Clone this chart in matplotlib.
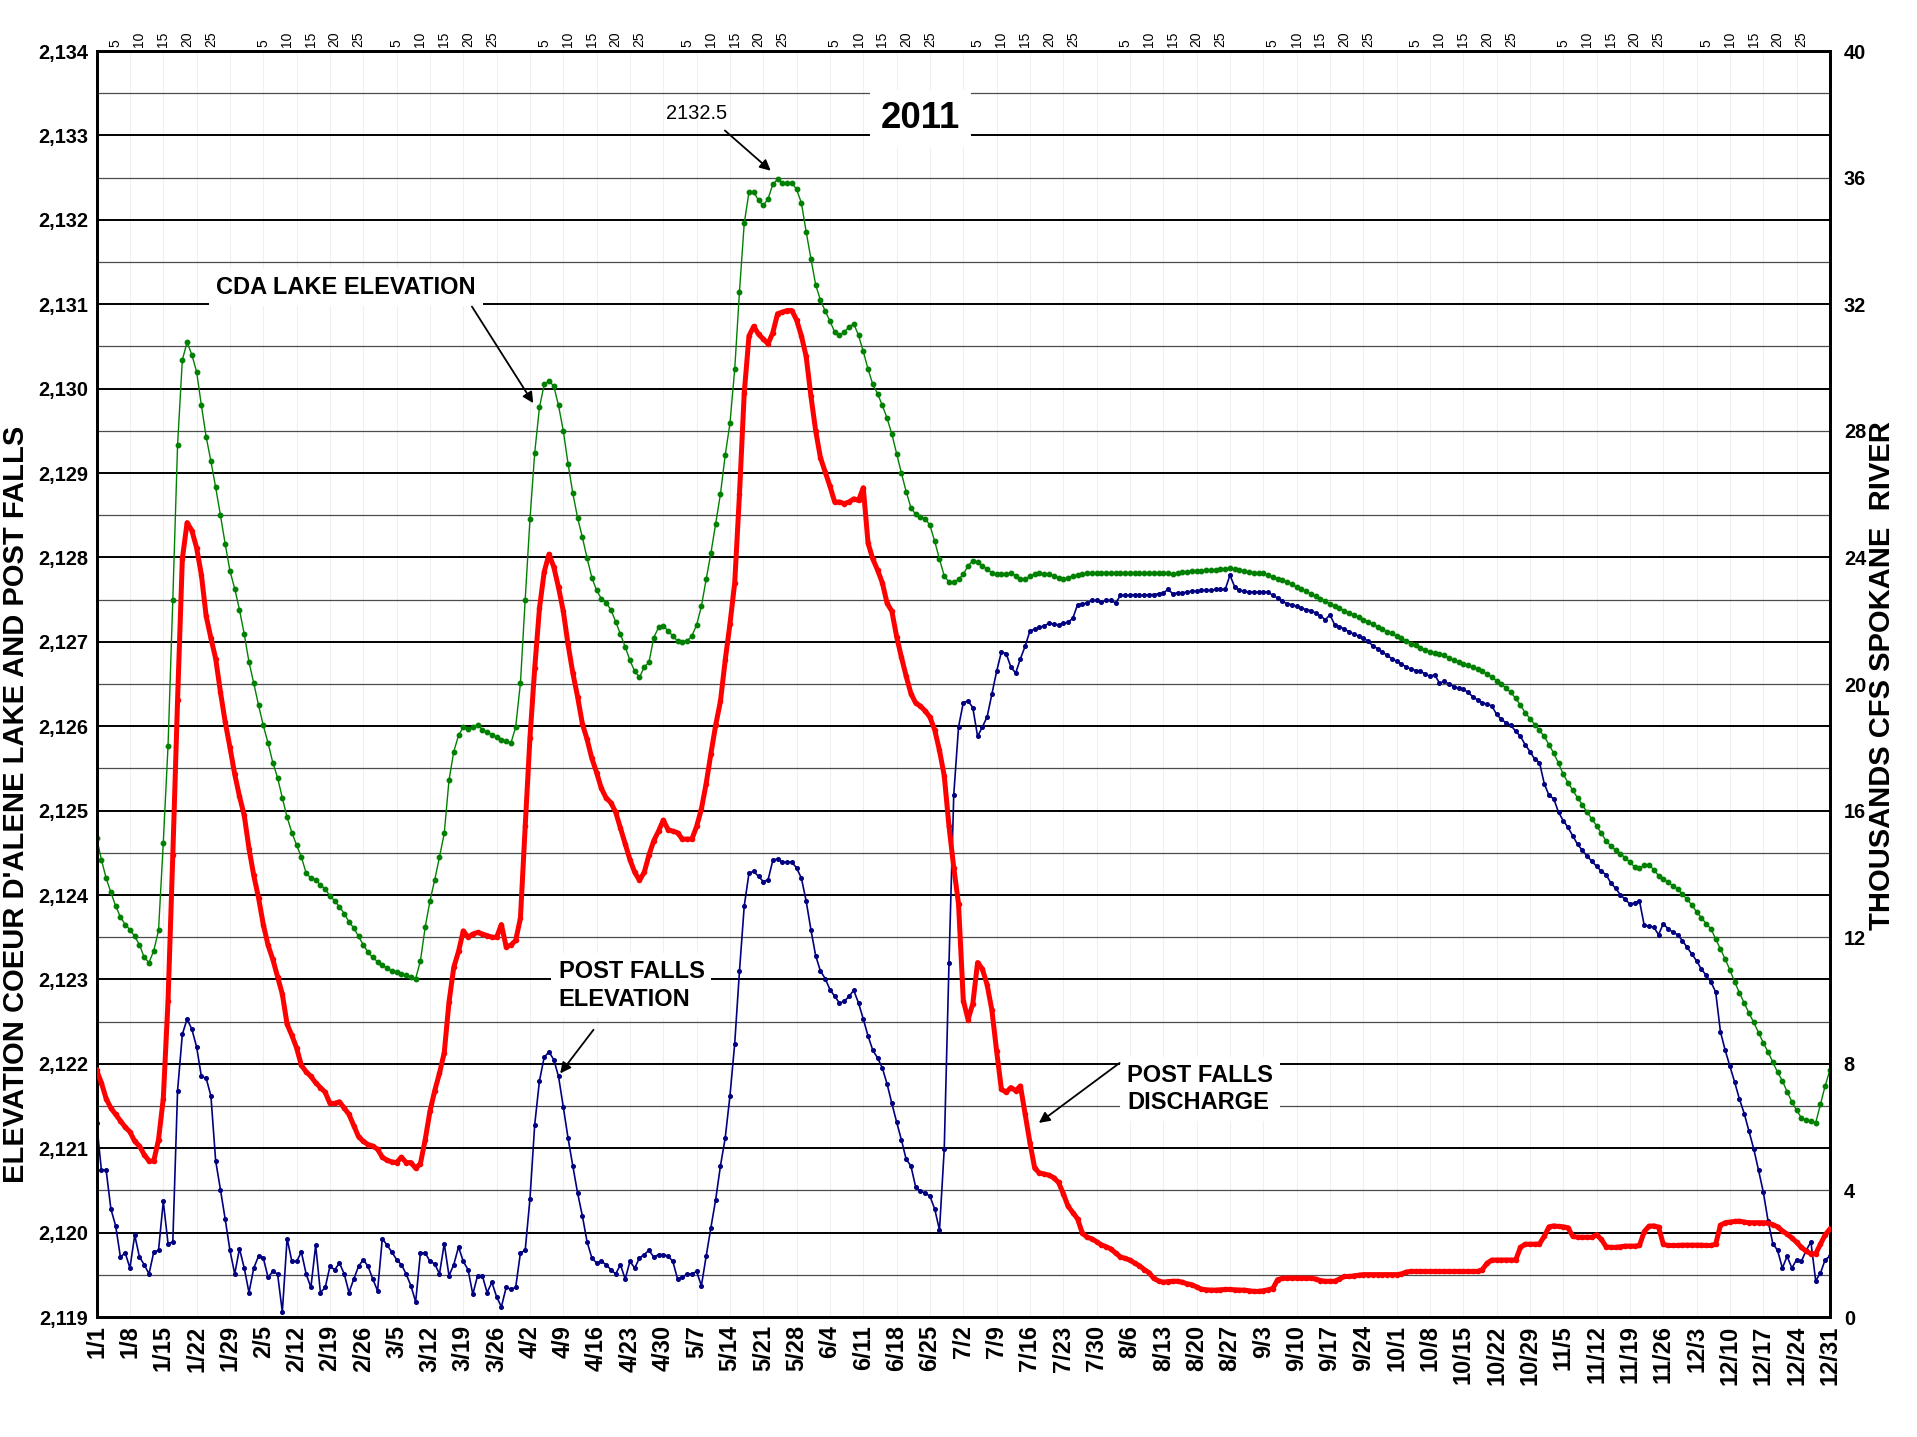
import datetime as dt
import matplotlib.pyplot as plt
from matplotlib import font_manager

# daily values, 1/1/2011 .. 12/31/2011
cda_lake = [
    2124.68, 2124.42, 2124.20, 2124.03, 2123.87, 2123.74, 2123.65, 2123.59, 2123.51, 2123.41,
    2123.26, 2123.20, 2123.34, 2123.58, 2124.62, 2125.77, 2127.50, 2129.33, 2130.34, 2130.55,
    2130.40, 2130.20, 2129.80, 2129.43, 2129.14, 2128.83, 2128.50, 2128.16, 2127.84, 2127.63,
    2127.38, 2127.09, 2126.76, 2126.51, 2126.25, 2126.01, 2125.80, 2125.57, 2125.39, 2125.15,
    2124.92, 2124.74, 2124.59, 2124.45, 2124.26, 2124.20, 2124.18, 2124.12, 2124.07, 2123.99,
    2123.93, 2123.86, 2123.78, 2123.68, 2123.61, 2123.51, 2123.41, 2123.32, 2123.26, 2123.21,
    2123.17, 2123.13, 2123.10, 2123.09, 2123.07, 2123.05, 2123.03, 2123.01, 2123.22, 2123.62,
    2123.93, 2124.18, 2124.45, 2124.73, 2125.36, 2125.70, 2125.89, 2125.99, 2125.97, 2125.99,
    2126.02, 2125.96, 2125.93, 2125.90, 2125.87, 2125.84, 2125.82, 2125.80, 2125.99, 2126.51,
    2127.50, 2128.45, 2129.24, 2129.78, 2130.05, 2130.09, 2130.03, 2129.80, 2129.50, 2129.11,
    2128.76, 2128.47, 2128.24, 2127.99, 2127.76, 2127.61, 2127.51, 2127.46, 2127.38, 2127.24,
    2127.09, 2126.94, 2126.78, 2126.65, 2126.58, 2126.70, 2126.76, 2127.05, 2127.17, 2127.19,
    2127.13, 2127.07, 2127.01, 2127.00, 2127.01, 2127.07, 2127.20, 2127.42, 2127.74, 2128.05,
    2128.40, 2128.75, 2129.21, 2129.59, 2130.23, 2131.15, 2131.96, 2132.33, 2132.33, 2132.23,
    2132.17, 2132.25, 2132.42, 2132.48, 2132.44, 2132.44, 2132.44, 2132.36, 2132.20, 2131.86,
    2131.54, 2131.23, 2131.05, 2130.92, 2130.80, 2130.67, 2130.63, 2130.67, 2130.73, 2130.77,
    2130.63, 2130.44, 2130.23, 2130.05, 2129.94, 2129.80, 2129.65, 2129.46, 2129.23, 2129.00,
    2128.78, 2128.59, 2128.51, 2128.48, 2128.46, 2128.38, 2128.19, 2127.98, 2127.78, 2127.71,
    2127.71, 2127.74, 2127.80, 2127.90, 2127.96, 2127.94, 2127.90, 2127.86, 2127.82, 2127.80,
    2127.80, 2127.80, 2127.82, 2127.78, 2127.74, 2127.74, 2127.78, 2127.80, 2127.81, 2127.80,
    2127.80, 2127.78, 2127.76, 2127.74, 2127.76, 2127.78, 2127.79, 2127.80, 2127.81, 2127.81,
    2127.82, 2127.82, 2127.82, 2127.82, 2127.82, 2127.82, 2127.81, 2127.82, 2127.82, 2127.81,
    2127.81, 2127.81, 2127.82, 2127.82, 2127.82, 2127.81, 2127.80, 2127.82, 2127.83, 2127.83,
    2127.84, 2127.84, 2127.84, 2127.85, 2127.85, 2127.85, 2127.86, 2127.86, 2127.88, 2127.86,
    2127.85, 2127.84, 2127.83, 2127.82, 2127.82, 2127.81, 2127.79, 2127.77, 2127.75, 2127.73,
    2127.71, 2127.68, 2127.65, 2127.62, 2127.60, 2127.57, 2127.54, 2127.51, 2127.48, 2127.45,
    2127.42, 2127.40, 2127.37, 2127.34, 2127.32, 2127.29, 2127.26, 2127.24, 2127.21, 2127.18,
    2127.15, 2127.12, 2127.10, 2127.07, 2127.04, 2127.01, 2126.98, 2126.96, 2126.93, 2126.90,
    2126.88, 2126.87, 2126.86, 2126.84, 2126.81, 2126.78, 2126.76, 2126.74, 2126.72, 2126.70,
    2126.68, 2126.65, 2126.62, 2126.58, 2126.54, 2126.50, 2126.45, 2126.40, 2126.33, 2126.25,
    2126.16, 2126.09, 2126.02, 2125.95, 2125.88, 2125.78, 2125.68, 2125.56, 2125.43, 2125.33,
    2125.24, 2125.15, 2125.07, 2124.98, 2124.90, 2124.82, 2124.73, 2124.64, 2124.58, 2124.53,
    2124.49, 2124.44, 2124.39, 2124.33, 2124.32, 2124.35, 2124.36, 2124.30, 2124.23, 2124.19,
    2124.15, 2124.11, 2124.07, 2124.01, 2123.95, 2123.88, 2123.80, 2123.73, 2123.66, 2123.60,
    2123.48, 2123.36, 2123.24, 2123.11, 2122.97, 2122.84, 2122.72, 2122.60, 2122.49, 2122.37,
    2122.25, 2122.14, 2122.02, 2121.90, 2121.80, 2121.67, 2121.55, 2121.45, 2121.36, 2121.33,
    2121.32, 2121.30, 2121.52, 2121.74, 2121.93,
]

pf_elev = [
    2121.30, 2120.74, 2120.74, 2120.28, 2120.08, 2119.71, 2119.76, 2119.58, 2119.97, 2119.71,
    2119.62, 2119.51, 2119.77, 2119.79, 2120.37, 2119.87, 2119.89, 2121.68, 2122.35, 2122.53,
    2122.41, 2122.20, 2121.85, 2121.83, 2121.62, 2120.85, 2120.51, 2120.16, 2119.79, 2119.51,
    2119.81, 2119.58, 2119.29, 2119.58, 2119.72, 2119.70, 2119.47, 2119.54, 2119.51, 2119.06,
    2119.93, 2119.66, 2119.66, 2119.77, 2119.51, 2119.35, 2119.85, 2119.29, 2119.35, 2119.60,
    2119.56, 2119.64, 2119.51, 2119.29, 2119.45, 2119.60, 2119.68, 2119.60, 2119.45, 2119.31,
    2119.93, 2119.85, 2119.77, 2119.68, 2119.62, 2119.51, 2119.37, 2119.18, 2119.76, 2119.76,
    2119.66, 2119.63, 2119.51, 2119.87, 2119.49, 2119.62, 2119.83, 2119.66, 2119.56, 2119.27,
    2119.49, 2119.49, 2119.29, 2119.41, 2119.24, 2119.12, 2119.35, 2119.33, 2119.35, 2119.76,
    2119.79, 2120.40, 2121.28, 2121.80, 2122.08, 2122.14, 2122.05, 2121.85, 2121.49, 2121.12,
    2120.79, 2120.47, 2120.20, 2119.89, 2119.70, 2119.64, 2119.66, 2119.62, 2119.56, 2119.51,
    2119.62, 2119.45, 2119.66, 2119.58, 2119.70, 2119.74, 2119.79, 2119.71, 2119.74, 2119.74,
    2119.72, 2119.66, 2119.45, 2119.47, 2119.51, 2119.51, 2119.54, 2119.37, 2119.72, 2120.06,
    2120.39, 2120.79, 2121.12, 2121.62, 2122.24, 2123.10, 2123.87, 2124.26, 2124.28, 2124.22,
    2124.16, 2124.18, 2124.41, 2124.43, 2124.39, 2124.39, 2124.39, 2124.32, 2124.20, 2123.93,
    2123.59, 2123.28, 2123.10, 2123.01, 2122.88, 2122.80, 2122.72, 2122.74, 2122.80, 2122.87,
    2122.72, 2122.53, 2122.33, 2122.16, 2122.07, 2121.95, 2121.76, 2121.53, 2121.31, 2121.10,
    2120.87, 2120.79, 2120.54, 2120.49, 2120.47, 2120.43, 2120.28, 2120.03, 2120.99, 2123.20,
    2125.19, 2125.99, 2126.28, 2126.30, 2126.22, 2125.88, 2125.99, 2126.11, 2126.38, 2126.65,
    2126.88, 2126.86, 2126.70, 2126.63, 2126.80, 2126.95, 2127.13, 2127.15, 2127.17, 2127.19,
    2127.22, 2127.21, 2127.20, 2127.22, 2127.23, 2127.28, 2127.44, 2127.45, 2127.46, 2127.49,
    2127.49, 2127.47, 2127.49, 2127.49, 2127.46, 2127.55, 2127.55, 2127.55, 2127.56, 2127.55,
    2127.55, 2127.56, 2127.56, 2127.57, 2127.58, 2127.62, 2127.57, 2127.58, 2127.58, 2127.59,
    2127.60, 2127.60, 2127.61, 2127.61, 2127.61, 2127.62, 2127.62, 2127.62, 2127.79, 2127.65,
    2127.61, 2127.60, 2127.59, 2127.59, 2127.59, 2127.59, 2127.59, 2127.55, 2127.52, 2127.48,
    2127.45, 2127.44, 2127.42, 2127.40, 2127.38, 2127.37, 2127.34, 2127.31, 2127.26, 2127.32,
    2127.20, 2127.18, 2127.15, 2127.12, 2127.09, 2127.07, 2127.04, 2127.01, 2126.95, 2126.92,
    2126.88, 2126.84, 2126.80, 2126.77, 2126.74, 2126.70, 2126.68, 2126.66, 2126.65, 2126.62,
    2126.59, 2126.61, 2126.51, 2126.53, 2126.50, 2126.47, 2126.45, 2126.44, 2126.40, 2126.35,
    2126.31, 2126.28, 2126.26, 2126.24, 2126.14, 2126.08, 2126.04, 2126.01, 2125.94, 2125.88,
    2125.78, 2125.70, 2125.61, 2125.57, 2125.32, 2125.18, 2125.14, 2124.98, 2124.88, 2124.80,
    2124.70, 2124.60, 2124.53, 2124.46, 2124.40, 2124.34, 2124.28, 2124.24, 2124.14, 2124.08,
    2124.00, 2123.95, 2123.89, 2123.91, 2123.93, 2123.64, 2123.63, 2123.62, 2123.53, 2123.66,
    2123.60, 2123.56, 2123.53, 2123.46, 2123.38, 2123.30, 2123.22, 2123.12, 2123.05, 2122.97,
    2122.85, 2122.38, 2122.16, 2121.97, 2121.78, 2121.58, 2121.41, 2121.20, 2120.99, 2120.74,
    2120.48, 2120.14, 2119.87, 2119.79, 2119.58, 2119.72, 2119.58, 2119.68, 2119.66, 2119.79,
    2119.89, 2119.43, 2119.52, 2119.68, 2119.72,
]

# thousands cfs
pf_discharge = [
    7.80, 7.40, 6.90, 6.60, 6.40, 6.20, 6.00, 5.85, 5.55, 5.40,
    5.13, 4.93, 4.93, 5.60, 6.90, 10.00, 14.60, 19.50, 23.95, 25.10,
    24.85, 24.30, 23.45, 22.15, 21.45, 20.80, 19.75, 18.80, 18.00, 17.15,
    16.45, 15.85, 14.80, 13.95, 13.25, 12.40, 11.75, 11.30, 10.75, 10.20,
    9.25, 8.90, 8.50, 7.95, 7.75, 7.60, 7.40, 7.25, 7.10, 6.75,
    6.75, 6.80, 6.60, 6.40, 6.05, 5.70, 5.55, 5.45, 5.40, 5.30,
    5.05, 4.95, 4.90, 4.88, 5.05, 4.88, 4.88, 4.70, 4.85, 5.60,
    6.50, 7.15, 7.70, 8.35, 9.95, 11.05, 11.55, 12.20, 12.00, 12.10,
    12.15, 12.10, 12.05, 12.00, 12.00, 12.40, 11.70, 11.75, 11.90, 12.60,
    15.50, 18.30, 20.50, 22.40, 23.55, 24.10, 23.70, 23.05, 22.30, 21.25,
    20.35, 19.60, 18.75, 18.25, 17.65, 17.20, 16.70, 16.40, 16.25, 15.95,
    15.45, 14.95, 14.45, 14.05, 13.80, 14.05, 14.60, 15.05, 15.35, 15.70,
    15.40, 15.35, 15.30, 15.10, 15.10, 15.10, 15.50, 16.05, 16.85, 17.80,
    18.70, 19.45, 20.75, 21.90, 23.20, 26.00, 29.20, 31.00, 31.30, 31.05,
    30.90, 30.75, 31.10, 31.70, 31.75, 31.80, 31.80, 31.50, 31.00, 30.35,
    29.10, 28.00, 27.15, 26.70, 26.25, 25.75, 25.75, 25.70, 25.75, 25.85,
    25.80, 26.20, 24.45, 23.95, 23.60, 23.20, 22.55, 22.30, 21.50, 20.85,
    20.25, 19.70, 19.40, 19.30, 19.15, 18.95, 18.55, 17.90, 17.10, 15.50,
    14.20, 13.05, 10.00, 9.40, 9.90, 11.20, 11.00, 10.50, 9.70, 8.40,
    7.20, 7.10, 7.25, 7.15, 7.30, 6.40, 5.50, 4.70, 4.55, 4.52,
    4.48, 4.40, 4.25, 3.90, 3.50, 3.30, 3.10, 2.65, 2.52, 2.47,
    2.38, 2.28, 2.22, 2.15, 2.02, 1.90, 1.85, 1.80, 1.70, 1.62,
    1.50, 1.40, 1.22, 1.14, 1.10, 1.12, 1.13, 1.13, 1.10, 1.05,
    1.02, 0.95, 0.88, 0.86, 0.85, 0.85, 0.86, 0.87, 0.87, 0.86,
    0.85, 0.85, 0.83, 0.81, 0.81, 0.83, 0.86, 0.90, 1.18, 1.22,
    1.23, 1.23, 1.23, 1.23, 1.22, 1.23, 1.20, 1.15, 1.13, 1.13,
    1.13, 1.20, 1.28, 1.28, 1.30, 1.32, 1.34, 1.34, 1.34, 1.34,
    1.34, 1.34, 1.34, 1.34, 1.36, 1.42, 1.44, 1.44, 1.44, 1.44,
    1.44, 1.44, 1.44, 1.44, 1.44, 1.44, 1.44, 1.44, 1.44, 1.44,
    1.44, 1.50, 1.70, 1.80, 1.80, 1.80, 1.80, 1.80, 1.80, 2.20,
    2.30, 2.30, 2.30, 2.31, 2.55, 2.85, 2.88, 2.86, 2.85, 2.82,
    2.55, 2.52, 2.52, 2.52, 2.52, 2.60, 2.45, 2.22, 2.20, 2.20,
    2.22, 2.24, 2.24, 2.24, 2.26, 2.70, 2.87, 2.88, 2.84, 2.30,
    2.26, 2.26, 2.26, 2.27, 2.27, 2.27, 2.27, 2.27, 2.26, 2.26,
    2.30, 2.90, 2.98, 3.00, 3.02, 3.03, 3.00, 2.98, 2.98, 2.98,
    2.98, 2.97, 2.92, 2.85, 2.72, 2.62, 2.50, 2.36, 2.20, 2.08,
    2.00, 2.00, 2.30, 2.60, 2.78,
]

start = dt.date(2011, 1, 1)
week_days = list(range(0, 365, 7))
week_labels = []
for d in week_days:
    fecha = start + dt.timedelta(days=d)
    week_labels.append(f"{fecha.month}/{fecha.day}")
top_days = [(dt.date(2011, m, dd) - start).days for m in range(1, 13) for dd in (5, 10, 15, 20, 25)]
top_labels = [str(dd) for m in range(1, 13) for dd in (5, 10, 15, 20, 25)]

# fuentes
nombres = {f.name for f in font_manager.fontManager.ttflist}
hay_narrow = 'Liberation Sans Narrow' in nombres
narrow = 'Liberation Sans Narrow' if hay_narrow else 'Liberation Sans'
k = 1.0 if hay_narrow else 0.85  # sin fuente estrecha se reduce el tamaño
plt.rcParams['font.family'] = ['Liberation Sans', 'DejaVu Sans']

fig = plt.figure(figsize=(19.17, 14.37), dpi=100)
ax = fig.add_axes([0.0504, 0.0835, 0.9042, 0.881])
ax2 = ax.twinx()

# lineas horizontales cada medio pie
for i in range(1, 30):
    v = 2119 + i * 0.5
    if i % 2 == 0:
        ax.axhline(v, color='black', lw=1.4, zorder=1)
    else:
        ax.axhline(v, color='#4d4d4d', lw=0.9, zorder=1)
for d in week_days:
    ax.axvline(d, color='#f0f0f0', lw=0.8, zorder=0)

dias = list(range(len(cda_lake)))
ax.plot(dias, cda_lake, '-', color='#008000', lw=1.0, marker='o', ms=3.2, zorder=3)
ax.plot(list(range(len(pf_elev))), pf_elev, '-', color='#000080', lw=1.2, marker='o', ms=2.6, zorder=3)
ax2.plot(list(range(len(pf_discharge))), pf_discharge, '-', color='#ff0000', lw=3.6,
         marker='o', ms=3, zorder=3)

ax.set_xlim(0, 364)
ax.set_ylim(2119, 2134)
ax2.set_ylim(0, 40)

ax.set_yticks(list(range(2119, 2135)))
ax.set_yticklabels([f"{v:,}" for v in range(2119, 2135)], fontfamily=narrow,
                   fontweight='bold', fontsize=17 * k)
ax2.set_yticks(list(range(0, 41, 4)))
ax2.set_yticklabels([str(v) for v in range(0, 41, 4)], fontfamily=narrow,
                    fontweight='bold', fontsize=17 * k)
ax.set_xticks(week_days)
ax.set_xticklabels(week_labels, rotation=90, fontweight='bold', fontsize=17)
ax.tick_params(axis='both', length=0, pad=6)
ax2.tick_params(axis='y', length=0, pad=10)

top = ax.secondary_xaxis('top')
top.set_xticks(top_days)
top.set_xticklabels(top_labels, rotation=90, fontsize=10)
top.tick_params(length=0, pad=3)

for a in (ax, ax2):
    for s in a.spines.values():
        s.set_linewidth(2)
        s.set_color('black')

fig.text(0.0085, 0.44, "ELEVATION COEUR D'ALENE LAKE AND POST FALLS", rotation=90,
         ha='center', va='center', fontsize=21, fontweight='bold')
fig.text(0.982, 0.53, "THOUSANDS CFS SPOKANE  RIVER", rotation=90,
         ha='center', va='center', fontsize=21, fontweight='bold')

caja = dict(boxstyle='square,pad=0.3', facecolor='white', edgecolor='none')
flecha = dict(arrowstyle='-|>', color='black', lw=1.3, mutation_scale=16)

ax.text(173, 2133.2, '2011', ha='center', va='center', fontsize=31 * k, fontweight='bold',
        fontfamily=narrow, bbox=dict(boxstyle='square,pad=0.3', facecolor='white', edgecolor='none'),
        zorder=5)
ax.text(126, 2133.26, '2132.5', ha='center', va='center', fontsize=17 * k, fontfamily=narrow, zorder=5)
ax.annotate('', xy=(142, 2132.56), xytext=(131.5, 2133.08), arrowprops=flecha, zorder=5)

ax.text(52.4, 2131.2, 'CDA LAKE ELEVATION', ha='center', va='center', fontsize=20 * k,
        fontweight='bold', fontfamily=narrow, bbox=caja, zorder=5)
ax.annotate('', xy=(92, 2129.8), xytext=(78.5, 2131.0), arrowprops=flecha, zorder=5)

ax.text(97, 2122.93, 'POST FALLS\nELEVATION', ha='left', va='center', fontsize=20 * k,
        fontweight='bold', fontfamily=narrow, linespacing=1.25, bbox=caja, zorder=5)
ax.annotate('', xy=(97, 2121.86), xytext=(104.7, 2122.43), arrowprops=flecha, zorder=5)

ax.text(216.4, 2121.7, 'POST FALLS\nDISCHARGE', ha='left', va='center', fontsize=20 * k,
        fontweight='bold', fontfamily=narrow, linespacing=1.25, bbox=caja, zorder=5)
ax.annotate('', xy=(197.4, 2121.28), xytext=(215.3, 2122.03), arrowprops=flecha, zorder=5)

plt.savefig('out.png', dpi=100)
